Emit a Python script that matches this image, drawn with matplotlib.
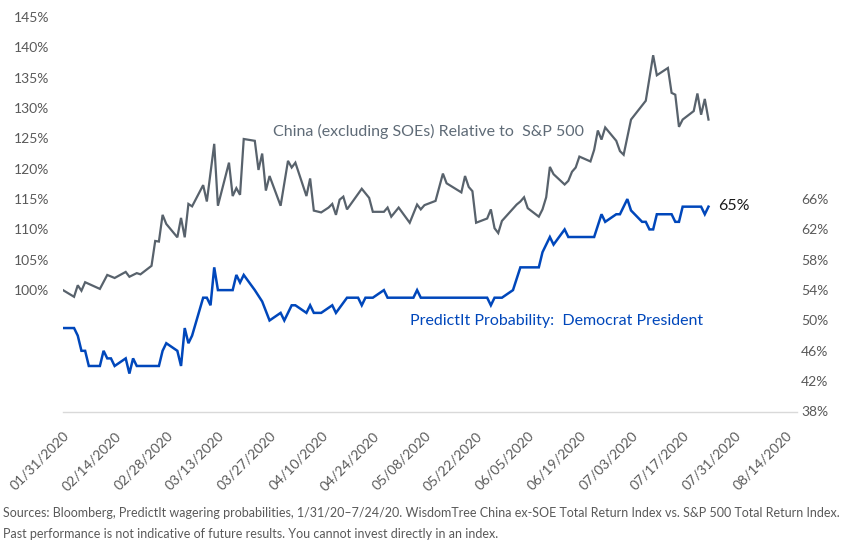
import matplotlib.pyplot as plt
import matplotlib.dates as mdates
import matplotlib.ticker as mticker
import pandas as pd

plt.rcParams['font.family'] = ['Lato', 'DejaVu Sans']

# ---------------------------------------------
# data (vertices of the lines)
# ---------------------------------------------
china_dates = [
    "2020-01-31", "2020-02-03", "2020-02-04", "2020-02-05", "2020-02-06", "2020-02-10",
    "2020-02-12", "2020-02-14", "2020-02-17", "2020-02-18", "2020-02-20", "2020-02-21",
    "2020-02-24", "2020-02-25", "2020-02-26", "2020-02-27", "2020-02-28", "2020-03-02",
    "2020-03-03", "2020-03-04", "2020-03-05", "2020-03-06", "2020-03-09", "2020-03-10",
    "2020-03-12", "2020-03-13", "2020-03-16", "2020-03-17", "2020-03-18", "2020-03-19",
    "2020-03-20", "2020-03-23", "2020-03-24", "2020-03-25", "2020-03-26", "2020-03-27",
    "2020-03-30", "2020-04-01", "2020-04-02", "2020-04-03", "2020-04-06", "2020-04-07",
    "2020-04-08", "2020-04-10", "2020-04-12", "2020-04-13", "2020-04-14", "2020-04-15",
    "2020-04-16", "2020-04-17", "2020-04-21", "2020-04-23", "2020-04-24", "2020-04-27",
    "2020-04-28", "2020-04-29", "2020-05-01", "2020-05-04", "2020-05-06", "2020-05-07",
    "2020-05-08", "2020-05-11", "2020-05-13", "2020-05-14", "2020-05-18", "2020-05-19",
    "2020-05-20", "2020-05-21", "2020-05-22", "2020-05-25", "2020-05-26", "2020-05-27",
    "2020-05-28", "2020-05-29", "2020-06-02", "2020-06-03", "2020-06-04", "2020-06-05",
    "2020-06-08", "2020-06-09", "2020-06-10", "2020-06-11", "2020-06-12", "2020-06-15",
    "2020-06-16", "2020-06-17", "2020-06-18", "2020-06-19", "2020-06-22", "2020-06-23",
    "2020-06-24", "2020-06-25", "2020-06-26", "2020-06-29", "2020-06-30", "2020-07-01",
    "2020-07-03", "2020-07-07", "2020-07-09", "2020-07-10", "2020-07-13", "2020-07-14",
    "2020-07-15", "2020-07-16", "2020-07-17", "2020-07-20", "2020-07-21", "2020-07-22",
    "2020-07-23", "2020-07-24",
]
china_rel = [
    100.0, 98.9, 100.8, 99.9, 101.3, 100.2,
    102.5, 102.0, 103.0, 102.2, 102.8, 102.6,
    104.0, 108.1, 108.0, 112.4, 110.9, 108.7,
    111.9, 108.7, 114.2, 113.8, 117.3, 114.6,
    124.1, 113.9, 121.0, 115.5, 116.8, 115.7,
    124.9, 124.6, 119.8, 122.5, 116.4, 118.8,
    113.9, 121.3, 120.2, 121.0, 115.5, 118.4,
    113.1, 112.8, 113.6, 114.2, 112.4, 114.9,
    115.4, 113.3, 116.7, 115.2, 112.9, 112.9,
    113.6, 112.1, 113.6, 111.1, 114.1, 113.3,
    114.0, 114.7, 119.2, 117.6, 116.1, 118.8,
    117.0, 116.3, 111.1, 111.8, 113.3, 110.2,
    109.4, 111.4, 114.1, 114.6, 115.3, 113.5,
    112.1, 113.3, 115.3, 120.3, 119.1, 117.4,
    118.0, 119.5, 120.2, 122.0, 121.2, 123.1,
    126.3, 124.8, 126.8, 124.6, 122.9, 122.3,
    128.1, 131.2, 138.7, 135.4, 136.6, 132.5,
    132.2, 126.9, 128.1, 129.5, 132.4, 128.9,
    131.5, 128.1,
]

predictit_dates = [
    "2020-01-31", "2020-02-03", "2020-02-04", "2020-02-05", "2020-02-06", "2020-02-07",
    "2020-02-10", "2020-02-11", "2020-02-12", "2020-02-13", "2020-02-14", "2020-02-17",
    "2020-02-18", "2020-02-19", "2020-02-20", "2020-02-26", "2020-02-27", "2020-02-28",
    "2020-03-02", "2020-03-03", "2020-03-04", "2020-03-05", "2020-03-06", "2020-03-09",
    "2020-03-10", "2020-03-11", "2020-03-12", "2020-03-13", "2020-03-17", "2020-03-18",
    "2020-03-19", "2020-03-20", "2020-03-23", "2020-03-25", "2020-03-27", "2020-03-30",
    "2020-03-31", "2020-04-02", "2020-04-03", "2020-04-06", "2020-04-07", "2020-04-08",
    "2020-04-10", "2020-04-13", "2020-04-14", "2020-04-17", "2020-04-20", "2020-04-21",
    "2020-04-22", "2020-04-24", "2020-04-27", "2020-04-28", "2020-05-05", "2020-05-06",
    "2020-05-07", "2020-05-25", "2020-05-26", "2020-05-27", "2020-05-29", "2020-06-01",
    "2020-06-03", "2020-06-08", "2020-06-09", "2020-06-11", "2020-06-12", "2020-06-15",
    "2020-06-16", "2020-06-23", "2020-06-25", "2020-06-26", "2020-06-29", "2020-06-30",
    "2020-07-02", "2020-07-03", "2020-07-06", "2020-07-07", "2020-07-08", "2020-07-09",
    "2020-07-10", "2020-07-14", "2020-07-15", "2020-07-16", "2020-07-17", "2020-07-22",
    "2020-07-23", "2020-07-24",
]
predictit_prob = [
    49, 49, 48, 46, 46, 44,
    44, 46, 45, 45, 44, 45,
    43, 45, 44, 44, 46, 47,
    46, 44, 49, 47, 48, 53,
    53, 52, 57, 54, 54, 56,
    55, 56, 54, 52.5, 50, 51,
    50, 52, 52, 51, 52, 51,
    51, 52, 51, 53, 53, 52,
    53, 53, 54, 53, 53, 54,
    53, 53, 52, 53, 53, 54,
    57, 57, 59, 61, 60, 62,
    61, 61, 64, 63, 64, 64,
    66, 64.5, 63, 63, 62, 62,
    64, 64, 63, 63, 65, 65,
    64, 65,
]

left_ticks = [100, 105, 110, 115, 120, 125, 130, 135, 140, 145]
right_ticks = [38, 42, 46, 50, 54, 58, 62, 66]

GRAY_LINE = "#58626c"
BLUE_LINE = "#0047bb"
TICK_COL = "#595959"

fig = plt.figure(figsize=(8.46, 5.53), dpi=100)
ax = fig.add_axes([63 / 846, 1 - 411.5 / 553, (797 - 63) / 846, (411.5 - 17) / 553])
ax2 = ax.twinx()

x1 = pd.to_datetime(china_dates)
x2 = pd.to_datetime(predictit_dates)
ax.plot(x1, china_rel, color=GRAY_LINE, lw=1.6, solid_joinstyle="miter")
ax2.plot(x2, predictit_prob, color=BLUE_LINE, lw=1.8, solid_joinstyle="miter")

ax.set_xlim(pd.Timestamp("2020-01-31"), pd.Timestamp("2020-08-17"))
ax.set_ylim(80, 145)
ax2.set_ylim(38, 90)

ax.set_yticks(left_ticks)
ax2.set_yticks(right_ticks)
ax.yaxis.set_major_formatter(mticker.FuncFormatter(lambda v, p: f"{v:.0f}%"))
ax2.yaxis.set_major_formatter(mticker.FuncFormatter(lambda v, p: f"{v:.0f}%"))

xt = pd.date_range("2020-01-31", "2020-08-14", freq="14D")
ax.set_xticks(xt)
ax.xaxis.set_major_formatter(mdates.DateFormatter("%m/%d/%Y"))
for lab in ax.get_xticklabels():
    lab.set_rotation(45)
    lab.set_ha("right")
    lab.set_va("top")
    lab.set_rotation_mode("anchor")

ax.tick_params(axis="y", length=0, pad=10, labelsize=10, labelcolor=TICK_COL)
ax.tick_params(axis="x", length=0, pad=13, labelsize=10, labelcolor=TICK_COL)
ax2.tick_params(axis="y", length=0, pad=3, labelsize=10, labelcolor=TICK_COL)

for a in (ax, ax2):
    for s in ("top", "left", "right", "bottom"):
        a.spines[s].set_visible(False)
ax.spines["bottom"].set_visible(True)
ax.spines["bottom"].set_color("#d9d9d9")
ax.spines["bottom"].set_linewidth(1)

# labels inside the plot
fig.text(273 / 846, 1 - 131 / 553, "China (excluding SOEs) Relative to  S&P 500",
         color="#5f6b77", fontsize=11.5, va="center", ha="left")
fig.text(410 / 846, 1 - 321 / 553, "PredictIt Probability:  Democrat President",
         color=BLUE_LINE, fontsize=11.5, va="center", ha="left")
fig.text(718 / 846, 1 - 206 / 553, "65%", color="#1a1a1a", fontsize=11.5,
         va="center", ha="left")

# footer
fig.text(3 / 846, 1 - 513 / 553,
         "Sources: Bloomberg, PredictIt wagering probabilities, 1/31/20\u20137/24/20. "
         "WisdomTree China ex-SOE Total Return Index vs. S&P 500 Total Return Index.",
         color=TICK_COL, fontsize=9, va="center", ha="left")
fig.text(3 / 846, 1 - 534 / 553,
         "Past performance is not indicative of future results. You cannot invest directly in an index.",
         color=TICK_COL, fontsize=9, va="center", ha="left")

fig.savefig("out.png", dpi=100)
